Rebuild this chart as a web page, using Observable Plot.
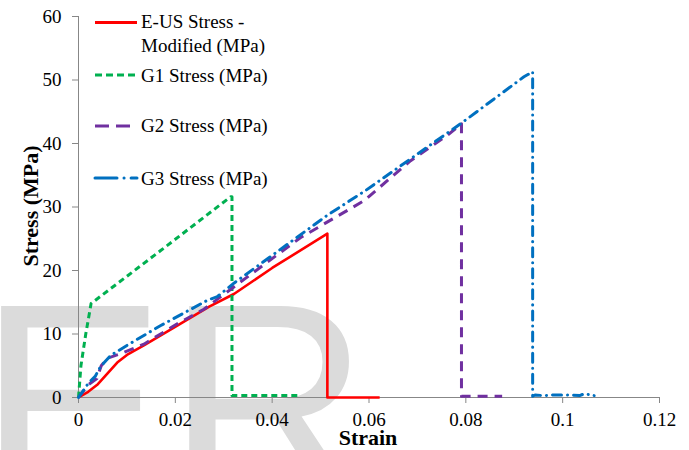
<!DOCTYPE html>
<html><head><meta charset="utf-8">
<script src="https://cdn.jsdelivr.net/npm/d3@7"></script>
<script src="https://cdn.jsdelivr.net/npm/@observablehq/plot@0.6"></script>
<style>
html,body{margin:0;padding:0;background:#fff;}
#chart{position:relative;width:689px;height:450px;overflow:hidden;}
</style></head><body><div id="chart"></div>
<script>
// ---- data ----
const seriesNames = ["E-US Stress - Modified (MPa)", "G1 Stress (MPa)", "G2 Stress (MPa)", "G3 Stress (MPa)"];
const legendLines = [["E-US Stress -", "Modified (MPa)"], ["G1 Stress (MPa)"], ["G2 Stress (MPa)"], ["G3 Stress (MPa)"]];

const eusStrain = [0, 0.002, 0.004, 0.006, 0.008, 0.010, 0.0135, 0.0197, 0.027, 0.0321, 0.040, 0.0514, 0.0514, 0.0622];
const eusStress = [0, 0.9, 2.1, 3.8, 5.5, 6.7, 8.2, 11.0, 14.3, 16.3, 20.4, 25.8, 0, 0];

const g1Strain = [0, 0.0005, 0.0015, 0.0026, 0.0169, 0.0314, 0.0317, 0.0317, 0.0455];
const g1Stress = [0, 5.0, 10.0, 14.8, 23.1, 31.6, 31.6, 0.3, 0.3];

const g2Strain = [0, 0.002, 0.0038, 0.0047, 0.006, 0.0087, 0.0135, 0.0204, 0.0259, 0.0356, 0.0459, 0.059, 0.0686, 0.0762, 0.0791, 0.0791, 0.0813, 0.0875];
const g2Stress = [0, 2.0, 3.0, 5.0, 6.2, 6.9, 8.4, 11.6, 13.9, 19.4, 25.2, 31.0, 37.3, 41.3, 43.1, 0.2, 0.2, 0.2];

const g3Strain = [0, 0.002, 0.0035, 0.0045, 0.0066, 0.010, 0.0169, 0.0266, 0.0287, 0.0321, 0.0514, 0.0593, 0.0789, 0.092, 0.0938, 0.0938, 0.0943, 0.096, 0.098, 0.101, 0.1035, 0.1045, 0.1065];
const g3Stress = [0, 2.2, 3.4, 4.8, 6.6, 8.2, 11.3, 15.3, 15.9, 18.0, 28.7, 32.6, 43.1, 50.5, 51.3, 0.2, 0.4, 0.3, 0.4, 0.4, 0.3, 0.6, 0.3];

const xTicks = [0, 0.02, 0.04, 0.06, 0.08, 0.10, 0.12];
const xTickLabels = ["0", "0.02", "0.04", "0.06", "0.08", "0.1", "0.12"];
const yTicks = [0, 10, 20, 30, 40, 50, 60];
const xTitle = "Strain";
const yTitle = "Stress (MPa)";

// ---- styles ----
const serif = "Liberation Serif, Times New Roman, serif";
const colors = ["#ff0000", "#00b050", "#7030a0", "#0070c0"];
const dashes = [null, "6,4", "10,7", "9,6,0.1,6"];
const caps = ["butt", "butt", "butt", "round"];
const legendDashes = [null, "7,4", "14,7", "22,7,0.1,7"];
const legendY = [22.5, 75, 126, 178];
const legendBase = [[28, 52], [82], [132], [185]];

function rows(sx, sy, name) { return sx.map((x, i) => ({strain: x, stress: sy[i], series: name})); }
const all = [
  rows(eusStrain, eusStress, seriesNames[0]),
  rows(g1Strain, g1Stress, seriesNames[1]),
  rows(g2Strain, g2Stress, seriesNames[2]),
  rows(g3Strain, g3Stress, seriesNames[3])
];

const axisGray = "#878787";
const lineMarks = all.map((d, i) => Plot.line(d, {
  x: "strain", y: "stress", stroke: colors[i], strokeWidth: i === 0 ? 2.6 : 3,
  strokeDasharray: dashes[i] || undefined, strokeLinecap: caps[i], strokeLinejoin: "round", curve: "linear"
}));

const plot = Plot.plot({
  width: 689, height: 450,
  marginLeft: 78, marginRight: 30, marginTop: 16, marginBottom: 53,
  x: {domain: [0, 0.12]},
  y: {domain: [0, 60]},
  style: {fontFamily: serif, fontSize: "19px", color: "black", background: "white"},
  marks: [
    Plot.ruleX([0], {stroke: axisGray, strokeWidth: 1}),
    Plot.ruleY([0], {stroke: axisGray, strokeWidth: 1}),
    Plot.axisX({ticks: xTicks, tickFormat: (d, i) => xTickLabels[i], tickSize: 6, tickPadding: 9, stroke: axisGray, fill: "black", label: null, fontSize: 19, fontFamily: serif, fontVariant: "normal"}),
    Plot.axisY({ticks: yTicks, tickSize: 6, tickPadding: 11, stroke: axisGray, fill: "black", label: null, fontSize: 19, fontFamily: serif, fontVariant: "normal"}),
    ...lineMarks
  ]
});
document.getElementById("chart").appendChild(plot);

const svg = d3.select(plot);
svg.style("font-family", serif);
svg.selectAll("text").attr("font-family", serif).style("font-family", serif);

// watermark behind everything
svg.insert("text", ":first-child")
  .attr("x", -22).attr("y", 500).attr("text-anchor", "start")
  .style("font-family", "Liberation Sans, Arial, sans-serif")
  .attr("font-size", 282).attr("fill", "#dbdbdb")
  .text("ER");
svg.insert("rect", ":first-child").attr("width", 689).attr("height", 450).attr("fill", "white");

// axis titles
svg.append("text").attr("x", 368).attr("y", 445).attr("text-anchor", "middle")
  .style("font-family", serif).attr("font-size", 22).attr("font-weight", "bold").text(xTitle);
svg.append("text").attr("transform", "translate(38,206) rotate(-90)").attr("text-anchor", "middle")
  .style("font-family", serif).attr("font-size", 22).attr("font-weight", "bold").text(yTitle);

// legend
const lg = svg.append("g");
seriesNames.forEach((name, i) => {
  const ln = lg.append("line").attr("x1", 95).attr("x2", 137).attr("y1", legendY[i]).attr("y2", legendY[i])
    .attr("stroke", colors[i]).attr("stroke-width", 3).attr("stroke-linecap", caps[i]);
  if (legendDashes[i]) ln.attr("stroke-dasharray", legendDashes[i]);
  legendLines[i].forEach((t, j) => {
    lg.append("text").attr("x", 141).attr("y", legendBase[i][j]).attr("text-anchor", "start")
      .style("font-family", serif).attr("font-size", 19).attr("fill", "black").text(t);
  });
});
</script>
</body></html>
